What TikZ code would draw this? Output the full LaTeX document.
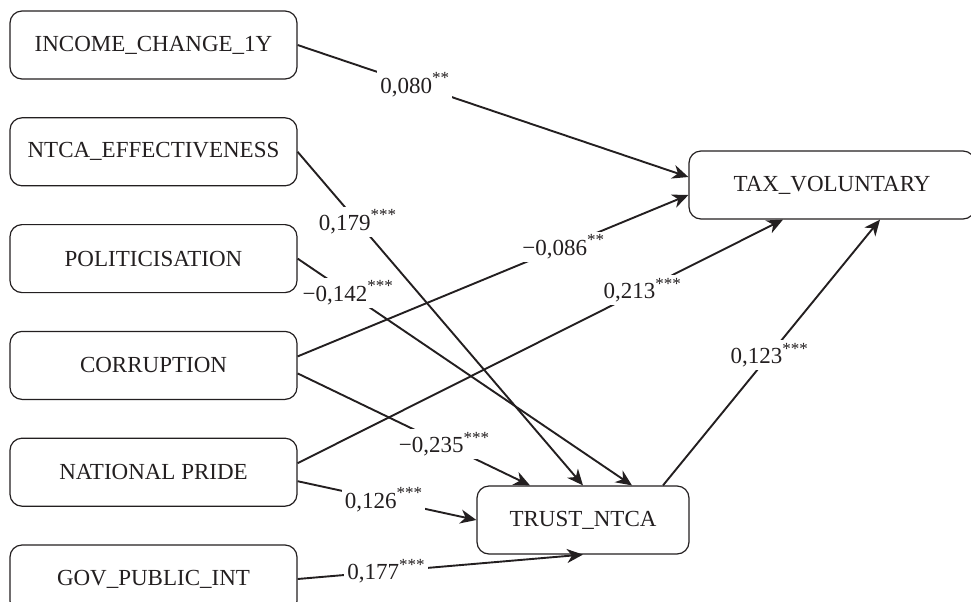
\documentclass[tikz,border=0pt]{standalone}
\usepackage{fontspec}
\setmainfont{Liberation Serif}
\usetikzlibrary{arrows.meta, positioning, calc}
\definecolor{ink}{RGB}{35,31,32}
\newcommand{\sig}[1]{\raisebox{0.9ex}{\fontsize{8.5}{9}\selectfont #1}}
\tikzset{
  varbox/.style={rectangle, rounded corners=6pt, draw=ink, line width=0.6pt,
                 minimum width=143.5pt, minimum height=34pt, text=ink,
                 font=\fontsize{11.5}{13}\selectfont},
  link/.style={-{Stealth[length=8pt, width=7pt, inset=2.5pt]}, line width=0.95pt, draw=ink},
  coef/.style={fill=white, inner sep=1.5pt, text=ink,
               font=\fontsize{11.5}{13}\selectfont},
}

\begin{document}
\begin{tikzpicture}[x=0.5pt, y=-0.5pt, node distance=18.8pt]
  \useasboundingbox (0,0) rectangle (971,601);

  % Predictors
  \node[varbox] (income) at (153.5,45) {INCOME\_CHANGE\_1Y};
  \node[varbox, below=of income] (ntca) {NTCA\_EFFECTIVENESS};
  \node[varbox, below=of ntca] (polit) {POLITICISATION};
  \node[varbox, below=of polit] (corrupt) {CORRUPTION};
  \node[varbox, below=of corrupt] (pride) {NATIONAL PRIDE};
  \node[varbox, below=of pride] (gov) {GOV\_PUBLIC\_INT};

  % Outcomes
  \node[varbox, minimum width=143pt] (taxvol) at (832,185) {TAX\_VOLUNTARY};
  \node[varbox, minimum width=106pt] (trust) at (583,520) {TRUST\_NTCA};

  % Paths to TAX_VOLUNTARY
  \draw[link] (income.east) -- ($(taxvol.west)+(0,-8)$)
    node[coef, pos=0.3]{0,080\sig{**}};
  \draw[link] ($(corrupt.east)+(0,-9)$) -- ($(taxvol.west)+(0,10)$)
    node[coef, pos=0.68]{−0,086\sig{**}};
  \draw[link] ($(pride.east)+(0,-9)$) -- ($(taxvol.south)+(-49,0)$)
    node[coef, pos=0.71]{0,213\sig{***}};
  \draw[link] ($(trust.north)+(80,0)$) -- ($(taxvol.south)+(48,0)$)
    node[coef, pos=0.49]{0,123\sig{***}};

  % Paths to TRUST_NTCA
  \draw[link] (ntca.east) -- (trust.north)
    node[coef, pos=0.21]{0,179\sig{***}};
  \draw[link] (polit.east) -- ($(trust.north)+(49,0)$)
    node[coef, pos=0.15]{−0,142\sig{***}};
  \draw[link] ($(corrupt.east)+(0,8)$) -- ($(trust.north)+(-53,0)$)
    node[coef, pos=0.63]{−0,235\sig{***}};
  \draw[link] ($(pride.east)+(0,9)$) -- (trust.west)
    node[coef, pos=0.48]{0,126\sig{***}};
  \draw[link] (gov.east) -- (trust.south)
    node[coef, pos=0.31]{0,177\sig{***}};
\end{tikzpicture}
\end{document}
